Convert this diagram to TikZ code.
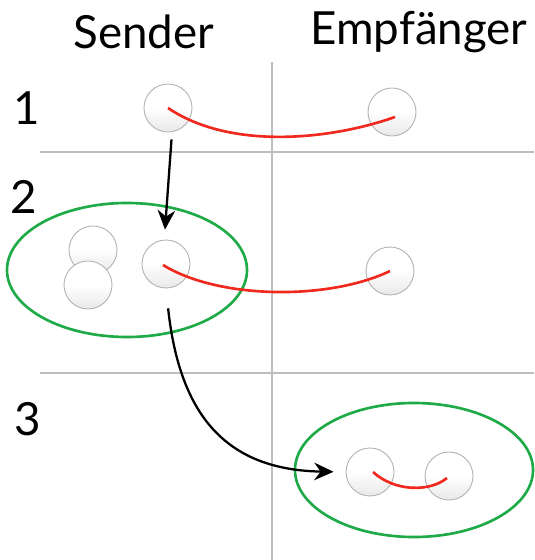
\documentclass[tikz,border=0pt]{standalone}
\usepackage{fontspec}
\setmainfont{Lato}
\usetikzlibrary{arrows.meta}
\definecolor{grid}{RGB}{190,190,190}
\definecolor{ellgreen}{RGB}{30,170,70}
\definecolor{redline}{RGB}{240,40,30}
\tikzset{
  ball/.style={circle, minimum size=48*0.02cm, inner sep=0pt, draw=gray!60, line width=0.5pt,
    shade, top color=white, bottom color=gray!18, middle color=white},
  gridline/.style={draw=grid, line width=1.2pt},
  grp/.style={draw=ellgreen, line width=1.5pt},
  bond/.style={draw=redline, line width=1.5pt},
  move/.style={draw=black, line width=1.3pt, -{Stealth[length=11pt,width=10pt]}},
  lbl/.style={font=\fontsize{26}{30}\selectfont, inner sep=0pt}
}
\begin{document}
\begin{tikzpicture}[x=0.02cm,y=-0.02cm]
\useasboundingbox (0,0) rectangle (534,560);
\fill[white] (0,0) rectangle (534,560);
% grid
\coordinate (vt) at (272,62);
\coordinate (vb) at (272,560);
\coordinate (h1l) at (40,152);
\coordinate (h1r) at (534,152);
\coordinate (h2l) at (40,373);
\coordinate (h2r) at (534,373);
\draw[gridline] (vt) -- (vb);
\draw[gridline] (h1l) -- (h1r);
\draw[gridline] (h2l) -- (h2r);
% headings
\node[lbl] (sender) at (144,32) {Sender};
\node[lbl] (empf) at (419,32) {Empfänger};
\node[lbl] (n1) at (27,108) {1};
\node[lbl] (n2) at (24,197) {2};
\node[lbl] (n3) at (28,419) {3};
% ellipses
\draw[grp] (127,270) ellipse [x radius=120, y radius=67];
\draw[grp] (414,470) ellipse [x radius=119, y radius=67];
% balls
\node[ball] (s1) at (168,108) {};
\node[ball] (r1) at (392,112) {};
\node[ball] (a2) at (93,250) {};
\node[ball] (b2) at (88,285) {};
\node[ball] (s2) at (166,264) {};
\node[ball] (r2) at (390,271) {};
\node[ball] (s3) at (370,472) {};
\node[ball] (r3) at (449,476) {};
% bonds
\draw[bond] (s1.center) .. controls (230,150) and (330,140) .. (395,117);
\draw[bond] (163,265) .. controls (220,300) and (330,300) .. (r2.center);
\draw[bond] (373,472) .. controls (395,492) and (430,492) .. (447,478);
% arrows
\draw[move] (s1.south) ++(4,-0) [shorten <=7*0.02cm] -- ([xshift=-1*0.02cm,yshift=10*0.02cm]s2.north);
\draw[move, shorten <=20*0.02cm, shorten >=12*0.02cm] (s2.south) .. controls (180,420) and (230,470) .. (s3.west);
\end{tikzpicture}
\end{document}
